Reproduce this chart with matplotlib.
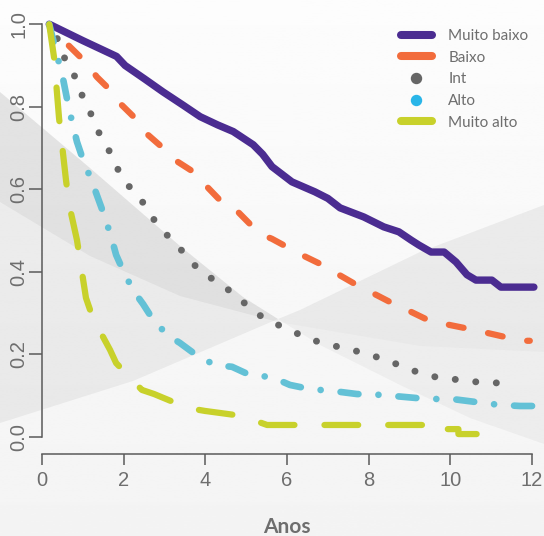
import numpy as np
import matplotlib
matplotlib.use("Agg")
import matplotlib.pyplot as plt
from matplotlib.lines import Line2D
from matplotlib.patches import Polygon
from matplotlib.legend_handler import HandlerLine2D

# ─── Data ─────────────────────────────────────────────────────────────────────

mb_x = [0.17, 1.0, 1.82, 2.03, 2.5, 2.96, 3.45, 3.87, 4.3, 4.68, 5.17, 5.4,
        5.63, 6.12, 6.68, 7.0, 7.3, 7.88, 8.37, 8.74, 9.04, 9.23, 9.53, 9.85,
        10.14, 10.41, 10.63, 11.02, 11.24, 12.05]
mb_y = [1.0, 0.96, 0.922, 0.90, 0.868, 0.836, 0.804, 0.776, 0.756, 0.74,
        0.708, 0.685, 0.655, 0.618, 0.594, 0.578, 0.555, 0.533, 0.509, 0.497,
        0.477, 0.465, 0.448, 0.448, 0.424, 0.393, 0.38, 0.38, 0.363, 0.363]

b_x = [0.35, 0.63, 1.05, 1.34, 1.71, 1.95, 2.32, 2.59, 2.96, 3.33, 3.74, 4.04,
       4.4, 4.8, 5.16, 5.51, 5.63, 6.36, 6.86, 7.27, 7.71, 8.13, 8.62, 9.0,
       9.5, 10.1, 10.6, 11.22, 11.75, 11.95]
b_y = [0.99, 0.95, 0.909, 0.872, 0.836, 0.804, 0.768, 0.732, 0.70, 0.666,
       0.64, 0.606, 0.569, 0.545, 0.509, 0.485, 0.48, 0.441, 0.417, 0.393,
       0.368, 0.347, 0.322, 0.305, 0.281, 0.269, 0.259, 0.245, 0.233, 0.233]

int_x = [0.17, 0.36, 0.53, 0.78, 0.97, 1.19, 1.39, 1.63, 1.85, 2.12, 2.44,
         2.71, 3.01, 3.35, 3.64, 4.01, 4.43, 4.8, 5.16, 5.56, 6.07, 6.54,
         7.05, 7.59, 8.13, 8.62, 9.11, 9.65, 10.24, 10.85, 11.55]
int_y = [1.0, 0.967, 0.921, 0.877, 0.829, 0.783, 0.737, 0.695, 0.649, 0.608,
         0.572, 0.53, 0.494, 0.46, 0.424, 0.393, 0.366, 0.339, 0.305, 0.281,
         0.259, 0.237, 0.223, 0.211, 0.196, 0.179, 0.16, 0.145, 0.138, 0.131,
         0.131]

a_x = [0.17, 0.41, 0.51, 0.61, 0.73, 0.85, 1.0, 1.22, 1.54, 1.71, 1.81, 1.95,
       2.22, 2.47, 2.69, 3.06, 3.37, 3.74, 4.23, 4.65, 5.09, 5.63, 6.07, 6.56,
       7.15, 7.71, 8.28, 8.87, 9.43, 10.04, 10.6, 11.17, 11.71, 12.05]
a_y = [1.0, 0.906, 0.867, 0.817, 0.763, 0.715, 0.671, 0.618, 0.531, 0.477,
       0.441, 0.41, 0.356, 0.322, 0.288, 0.247, 0.228, 0.201, 0.174, 0.17,
       0.15, 0.145, 0.126, 0.116, 0.111, 0.104, 0.102, 0.097, 0.092, 0.092,
       0.085, 0.078, 0.075, 0.075]

ma_x = [0.17, 0.29, 0.41, 0.58, 0.66, 0.85, 1.07, 1.24, 1.66, 1.81, 2.44,
        2.74, 3.57, 3.99, 4.89, 5.51, 6.44, 8.06, 9.5, 9.5, 10.2, 10.2, 11.1]
ma_y = [1.0, 0.918, 0.773, 0.623, 0.562, 0.477, 0.337, 0.288, 0.211, 0.179,
        0.114, 0.104, 0.07, 0.063, 0.051, 0.029, 0.029, 0.029, 0.029, 0.019,
        0.019, 0.007, 0.007]

labels = ["Muito baixo", "Baixo", "Int", "Alto", "Muito alto"]
colors = ["#4b2c91", "#f26c3c", "#666666", "#63c1d6", "#c8d12b"]
x_ticks = [0, 2, 4, 6, 8, 10, 12]
y_ticks = [0.0, 0.2, 0.4, 0.6, 0.8, 1.0]

TICK_C = "#6e6e6e"
AXIS_C = "#5a5a5a"

# ─── Figure ───────────────────────────────────────────────────────────────────

fig = plt.figure(figsize=(5.44, 5.36), dpi=100, facecolor="white")

# background: two crossing grey swooshes (bow-tie), pixel coordinates
bg = fig.add_axes([0, 0, 1, 1], zorder=-1)
bg.set_xlim(0, 544); bg.set_ylim(536, 0); bg.axis("off")
shade = np.linspace(0.99, 0.955, 200)[:, None]
bg.imshow(shade, extent=(0, 544, 536, 0), cmap="gray", vmin=0, vmax=1,
          aspect="auto", zorder=0)

ta_left = [(0, 92), (90, 168), (180, 246), (243, 297), (278, 319)]
rise_right = [(300, 310), (420, 252), (544, 205)]
ta_right = [(544, 444), (470, 418), (400, 385), (320, 345)]
rise_left = [(133, 381), (0, 423)]
b_left = [(0, 202), (90, 256), (180, 296), (278, 322)]
b_right = [(278, 322), (420, 346), (544, 352)]

# (polygon, darkening alpha)
swooshes = [
    (ta_left + rise_left, 0.05),
    ([(278, 319)] + rise_right + ta_right, 0.035),
    (ta_left + b_left[::-1], 0.045),
    ([(278, 319)] + rise_right + b_right[::-1], 0.02),
]
for pts, a in swooshes:
    bg.add_patch(Polygon(pts, fc="black", ec="none", alpha=a, zorder=1))

ax = fig.add_axes([0.05526, 0.1463, 0.9449, 0.8316])
ax.set_facecolor("none")
ax.set_xlim(-0.3, 12.3)
ax.set_ylim(-0.05, 1.03)

ax.plot(mb_x, mb_y, color=colors[0], lw=5.3, solid_capstyle="round",
        solid_joinstyle="round")
ax.plot(b_x, b_y, color=colors[1], lw=4.5, ls=(3.0, (2.4, 4.0)),
        dash_capstyle="round")
ax.plot(int_x, int_y, color=colors[2], lw=5.0, ls=(0.6, (0.01, 2.96)),
        dash_capstyle="round")
ax.plot(a_x, a_y, color=colors[3], lw=4.8, ls=(0, (2.7, 3.0, 0.01, 3.0)),
        dash_capstyle="round")
ax.plot(ma_x, ma_y, color=colors[4], lw=4.5, ls=(0, (5.4, 4.8)),
        dash_capstyle="round")

# R-style detached axes
for s in ("top", "right"):
    ax.spines[s].set_visible(False)
ax.spines["left"].set_position(("data", 0))
ax.spines["left"].set_bounds(0, 1)
ax.spines["bottom"].set_position(("data", -0.041))
ax.spines["bottom"].set_bounds(0, 12)
for s in ("left", "bottom"):
    ax.spines[s].set_color(AXIS_C)
    ax.spines[s].set_linewidth(1.1)

ax.set_xticks(x_ticks)
ax.set_xticklabels([str(v) for v in x_ticks])
ax.set_yticks(y_ticks)
ax.set_yticklabels([f"{v:.1f}" for v in y_ticks], rotation=90, va="center")
ax.tick_params(axis="x", length=8, width=1.1, color=AXIS_C, pad=4.5,
               labelsize=14.5, labelcolor=TICK_C)
ax.tick_params(axis="y", length=9.4, width=1.1, color=AXIS_C, pad=0.5,
               labelsize=14.5, labelcolor=TICK_C)
for t in ax.get_xticklabels() + ax.get_yticklabels():
    t.set_fontfamily("Liberation Sans")

ax.set_xlabel("Anos", fontsize=15, fontweight="bold", color=TICK_C,
              family="Lato", labelpad=19)


# legend: lines for most, a dot at the right end for Int / Alto
class RightDot(HandlerLine2D):
    def get_xdata(self, legend, xdescent, ydescent, width, height, fontsize):
        xdata, _ = super().get_xdata(legend, xdescent, ydescent, width,
                                     height, fontsize)
        return xdata, np.array([width - xdescent])


leg_colors = [colors[0], colors[1], "#666666", "#29b5e8", colors[4]]
handles = []
hmap = {}
for lab, c in zip(labels, leg_colors):
    if lab in ("Int", "Alto"):
        h = Line2D([], [], ls="none", marker="o", ms=7.2, color=c, mec=c)
        hmap[h] = RightDot()
    else:
        h = Line2D([], [], color=c, lw=5.8, solid_capstyle="round")
    handles.append(h)

leg = fig.legend(handles, labels, loc="upper left",
                 bbox_to_anchor=(401 / 544, 1 - 29 / 536), frameon=False,
                 handlelength=2.0, handletextpad=1.1,
                 labelspacing=0.5, borderpad=0, borderaxespad=0,
                 handler_map=hmap, prop={"family": "Lato", "size": 11})
for t in leg.get_texts():
    t.set_color(TICK_C)

fig.savefig("out.png", dpi=100)
